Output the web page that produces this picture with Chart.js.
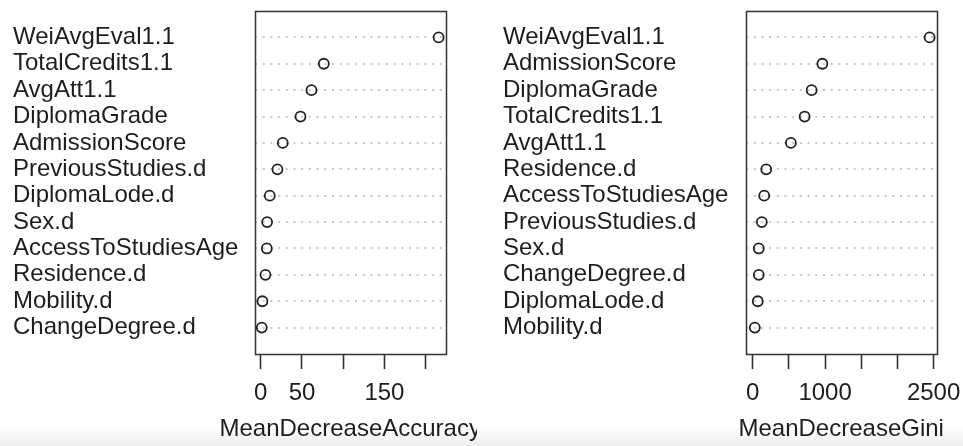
<!DOCTYPE html>
<html>
<head>
<meta charset="utf-8">
<script src="https://cdn.jsdelivr.net/npm/chart.js@4.4.1/dist/chart.umd.min.js"></script>
<style>
  html, body { margin: 0; padding: 0; background: #ffffff; }
  #wrap {
    position: relative; width: 963px; height: 446px; overflow: hidden;
    background: linear-gradient(to bottom, #ffffff 0px, #ffffff 426px, #ededed 446px);
  }
  canvas { position: absolute; top: 0; }
  #accChart { left: 0; }
  #giniChart { left: 481px; }
</style>
</head>
<body>
<div id="wrap">
  <canvas id="accChart" width="481" height="446"></canvas>
  <canvas id="giniChart" width="482" height="446"></canvas>
</div>
<script>
// Variable importance, ordered from most to least important (top to bottom).
const accLabels = ['WeiAvgEval1.1', 'TotalCredits1.1', 'AvgAtt1.1', 'DiplomaGrade', 'AdmissionScore',
  'PreviousStudies.d', 'DiplomaLode.d', 'Sex.d', 'AccessToStudiesAge', 'Residence.d', 'Mobility.d', 'ChangeDegree.d'];
const accValues = [215.8, 76.5, 61.5, 48.2, 26.7, 20.2, 10.9, 7.7, 7.3, 5.7, 2.0, 1.2];

const giniLabels = ['WeiAvgEval1.1', 'AdmissionScore', 'DiplomaGrade', 'TotalCredits1.1', 'AvgAtt1.1',
  'Residence.d', 'AccessToStudiesAge', 'PreviousStudies.d', 'Sex.d', 'ChangeDegree.d', 'DiplomaLode.d', 'Mobility.d'];
const giniValues = [2445, 962, 814, 717, 527, 186, 158, 125, 83, 83, 69, 28];

// Axis ticks and the labels printed under them (some are left blank to avoid overlap).
const accTicks = [0, 50, 100, 150, 200];
const accTickLabels = ['0', '50', '', '150', ''];
const giniTicks = [0, 500, 1000, 1500, 2000, 2500];
const giniTickLabels = ['0', '', '1000', '', '', '2500'];

const FONT = '"Liberation Sans", Arial, Helvetica, sans-serif';
const TEXT = '#1e1e1e';
const FONT_SIZE = 24;

// Outline around the plotting region.
const framePlugin = {
  id: 'frame',
  beforeDatasetsDraw(chart) {
    const a = chart.chartArea;
    const ctx = chart.ctx;
    ctx.save();
    ctx.strokeStyle = '#333333';
    ctx.lineWidth = 1.5;
    ctx.setLineDash([]);
    ctx.strokeRect(Math.round(a.left) + 0.5, Math.round(a.top) + 0.5,
      Math.round(a.right - a.left), Math.round(a.bottom - a.top));
    ctx.restore();
  }
};

// x-axis title, centred under the plotting region at its natural width
// (the built-in scale title squeezes text to the scale width); clipped to the panel.
const xTitlePlugin = {
  id: 'xTitle',
  afterDraw(chart, args, opts) {
    const a = chart.chartArea;
    const ctx = chart.ctx;
    ctx.save();
    ctx.beginPath();
    ctx.rect(0, 0, opts.clipRight, chart.height);
    ctx.clip();
    ctx.fillStyle = TEXT;
    ctx.font = FONT_SIZE + 'px ' + FONT;
    ctx.textAlign = 'center';
    ctx.textBaseline = 'middle';
    ctx.fillText(opts.text, (a.left + a.right) / 2, opts.y);
    ctx.restore();
  }
};

function dotChart(id, labels, values, ticks, tickLabels, title, fromZero, pad, yWidth, clipRight) {
  const n = labels.length;
  const lo = fromZero ? 0 : Math.min(...values);
  const hi = Math.max(...values);
  const ext = (hi - lo) * 0.04;
  const points = values.map((v, i) => ({ x: v, y: n - i }));

  return new Chart(document.getElementById(id), {
    type: 'scatter',
    data: {
      datasets: [{
        data: points,
        pointStyle: 'circle',
        pointRadius: 5,
        pointHoverRadius: 5,
        pointBorderWidth: 1.8,
        pointBorderColor: '#222222',
        pointBackgroundColor: 'rgba(0,0,0,0)',
        showLine: false,
        clip: false
      }]
    },
    options: {
      responsive: false,
      animation: false,
      devicePixelRatio: 1,
      layout: { padding: { left: pad.left, right: pad.right, top: 11, bottom: 0 } },
      plugins: {
        legend: { display: false },
        tooltip: { enabled: false },
        xTitle: { text: title, y: 429, clipRight: clipRight }
      },
      scales: {
        x: {
          type: 'linear',
          position: 'bottom',
          min: lo - ext,
          max: hi + ext,
          afterBuildTicks: s => { s.ticks = ticks.map(v => ({ value: v })); },
          afterFit: s => { s.height = 92; s.paddingLeft = 0; s.paddingRight = 0; },
          ticks: {
            autoSkip: false,
            maxRotation: 0,
            minRotation: 0,
            padding: 10,
            color: TEXT,
            font: { family: FONT, size: FONT_SIZE },
            callback: (v, i) => tickLabels[i]
          },
          grid: {
            drawOnChartArea: false,
            drawTicks: true,
            tickLength: 15,
            tickWidth: 1.6,
            tickColor: '#333333',
            color: '#333333'
          },
          border: { display: false },
          title: { display: false }
        },
        y: {
          type: 'linear',
          position: 'left',
          min: 0,
          max: n + 1,
          afterBuildTicks: s => { s.ticks = labels.map((_, i) => ({ value: n - i })); },
          afterFit: s => { s.width = yWidth; s.paddingTop = 0; s.paddingBottom = 0; },
          ticks: {
            autoSkip: false,
            crossAlign: 'far',
            color: TEXT,
            font: { family: FONT, size: FONT_SIZE },
            callback: v => labels[n - v]
          },
          grid: { color: '#c8c8c8', lineWidth: 2, drawTicks: false, tickLength: 0 },
          border: { display: false, dash: [2, 5.7] }
        }
      }
    },
    plugins: [framePlugin, xTitlePlugin]
  });
}

dotChart('accChart', accLabels, accValues, accTicks, accTickLabels,
  'MeanDecreaseAccuracy', false, { left: 13, right: 35.3 }, 241.7, 477);
dotChart('giniChart', giniLabels, giniValues, giniTicks, giniTickLabels,
  'MeanDecreaseGini', true, { left: 22, right: 26.3 }, 242.7, 482);
</script>
</body>
</html>
